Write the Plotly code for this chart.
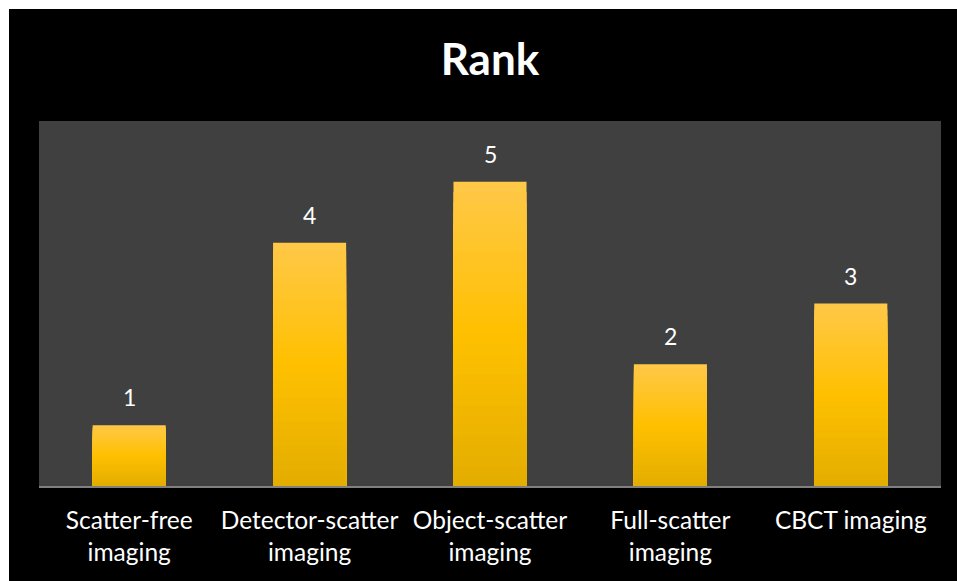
import plotly.graph_objects as go

# Chart data
categories = ["Scatter-free<br>imaging", "Detector-scatter<br>imaging", "Object-scatter<br>imaging",
              "Full-scatter<br>imaging", "CBCT imaging"]
ranks = [1, 4, 5, 2, 3]

FONT = "Lato, Open Sans, sans-serif"

# Vertical gold gradient (top -> bottom), built from stacked overlay bars
grad_stops = [(0.0, (255, 200, 70)), (0.5, (255, 192, 0)), (1.0, (228, 174, 0))]
n_steps = 30


def grad_color(t):
    for (t0, c0), (t1, c1) in zip(grad_stops[:-1], grad_stops[1:]):
        if t0 <= t <= t1:
            f = (t - t0) / (t1 - t0)
            return "rgb(%d,%d,%d)" % tuple(round(a + (b - a) * f) for a, b in zip(c0, c1))
    return "rgb(%d,%d,%d)" % grad_stops[-1][1]


fig = go.Figure()
for k in range(n_steps):
    frac = 1 - k / n_steps
    fig.add_trace(go.Bar(
        x=categories, y=[v * frac for v in ranks],
        marker=dict(color=grad_color(k / (n_steps - 1)), line=dict(width=0)),
        width=0.405, hoverinfo="skip", showlegend=False,
    ))

# Value labels above bars
for c, v in zip(categories, ranks):
    fig.add_annotation(x=c, y=v, text=str(v), showarrow=False, yanchor="bottom", yshift=12,
                       font=dict(family=FONT, size=23, color="white"))

fig.update_layout(
    width=957, height=581,
    barmode="overlay",
    paper_bgcolor="black", plot_bgcolor="#404040",
    margin=dict(l=39, r=16, t=121, b=95),
    title=dict(text="<b>Rank</b>", x=0.512, xanchor="center", y=0.897, yanchor="middle",
               font=dict(family=FONT, size=44, color="white")),
    xaxis=dict(showgrid=False, showline=True, linecolor="#808080", linewidth=2,
               ticks="", ticklabelstandoff=12,
               tickfont=dict(family=FONT, size=24.5, color="white")),
    yaxis=dict(range=[0, 6], showgrid=False, zeroline=False, showticklabels=False, ticks=""),
)

# White border strips on the top and left edges of the page
fig.add_shape(type="rect", xref="paper", yref="paper",
              x0=-39 / 902 - 0.01, x1=(957 - 39) / 902 + 0.01, y0=(121 - 9) / 365 + 1, y1=121 / 365 + 1.01,
              fillcolor="white", line=dict(width=0), layer="above")
fig.add_shape(type="rect", xref="paper", yref="paper",
              x0=-39 / 902 - 0.01, x1=-30 / 902, y0=-95 / 365 - 0.01, y1=121 / 365 + 1.01,
              fillcolor="white", line=dict(width=0), layer="above")

fig.write_html("out.html")
